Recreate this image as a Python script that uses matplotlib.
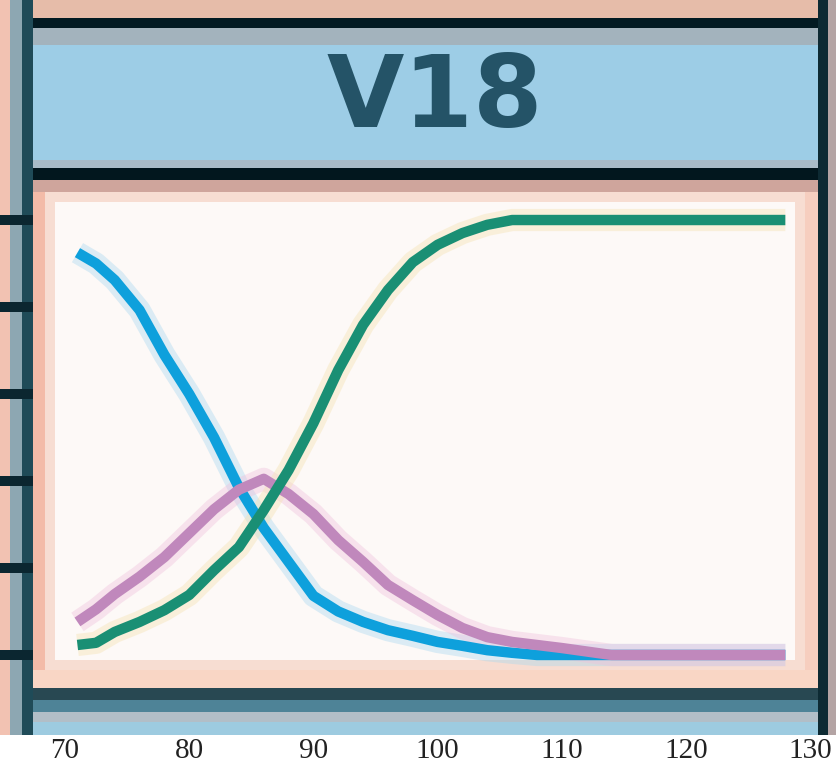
import matplotlib
matplotlib.use("Agg")
import matplotlib.pyplot as plt
from matplotlib.patches import Rectangle

# data
x_vals = [71, 72.5, 74, 76, 78, 80, 82, 84, 86, 88, 90, 92, 94, 96, 98, 100,
          102, 104, 106, 108, 110, 114, 118, 122, 128]
blue = [0.925, 0.90, 0.862, 0.793, 0.69, 0.60, 0.50, 0.385, 0.292, 0.214, 0.136,
        0.10, 0.076, 0.057, 0.044, 0.03, 0.021, 0.011, 0.005, 0.0, 0.0, 0.0,
        0.0, 0.0, 0.0]
purple = [0.076, 0.105, 0.14, 0.18, 0.225, 0.28, 0.335, 0.38, 0.405, 0.37,
          0.324, 0.264, 0.214, 0.161, 0.126, 0.092, 0.062, 0.041, 0.030, 0.023,
          0.016, 0.0, 0.0, 0.0, 0.0]
green = [0.023, 0.028, 0.053, 0.076, 0.103, 0.138, 0.195, 0.248, 0.333, 0.425,
         0.533, 0.655, 0.759, 0.839, 0.903, 0.943, 0.970, 0.989, 1.0, 1.0, 1.0,
         1.0, 1.0, 1.0, 1.0]
x_ticks = [70, 80, 90, 100, 110, 120, 130]
y_ticks = [0, 0.2, 0.4, 0.6, 0.8, 1.0]
strip_label = "V18"

W, H = 837, 769
fig = plt.figure(figsize=(W / 100, H / 100), dpi=100)
fig.patch.set_facecolor("white")


def band(x0, y0, x1, y1, color):
    # pixel box, y measured from the top
    fig.add_artist(Rectangle((x0 / W, 1 - y1 / H), (x1 - x0) / W, (y1 - y0) / H,
                             transform=fig.transFigure, facecolor=color,
                             edgecolor="none", zorder=-1))


# left edge columns
band(0, 0, 10, 735, "#f2c2b2")
band(10, 0, 22, 735, "#8da7b2")
# top strip
band(33, 0, 818, 18, "#e6bca9")
band(22, 18, 830, 28, "#021a22")
band(33, 28, 818, 45, "#a3b3bd")
band(33, 45, 818, 160, "#9dcde6")
band(33, 160, 818, 168, "#a9bcc8")
band(22, 168, 830, 180, "#02171e")
# panel
band(33, 180, 818, 192, "#cfa59c")
band(33, 192, 818, 688, "#f7ddd2")
band(55, 202, 795, 660, "#fdf9f7")
band(33, 192, 45, 688, "#f3bba8")
band(805, 192, 818, 688, "#f6cebf")
band(33, 670, 818, 688, "#f9d6c5")
# bottom strip
band(22, 688, 830, 700, "#284852")
band(33, 700, 818, 712, "#4e8397")
band(33, 712, 818, 722, "#b2bec7")
band(33, 722, 818, 735, "#9dcbe0")
# side spines
band(22, 0, 33, 735, "#1f4b58")
band(818, 0, 828, 735, "#0d2a33")
band(828, 0, 837, 735, "#b4a4a4")

fig.text(435 / W, 1 - 100 / H, strip_label, ha="center", va="center",
         fontsize=72, fontweight="bold", color="#245367")

ax = fig.add_axes([33 / W, 1 - 688 / H, (818 - 33) / W, (688 - 180) / H])
ax.patch.set_visible(False)
for s in ax.spines.values():
    s.set_visible(False)
ax.set_xlim(67.42, 130.63)
ax.set_ylim(-0.0759, 1.092)

series = [(blue, "#0ea0dc"), (purple, "#c088bc"), (green, "#1a8f74")]
halo = ["#a8d8f0", "#f0c0dc", "#f5e2b0"]
for (vals, col), hc in zip(series, halo):
    ax.plot(x_vals, vals, color=hc, lw=16, alpha=0.4, solid_capstyle="butt")
for vals, col in series:
    ax.plot(x_vals, vals, color=col, lw=7.5, solid_capstyle="butt")

ax.set_yticks(y_ticks)
ax.tick_params(axis="y", length=23.8, width=7.2, color="#0b2630", labelleft=False)
ax.set_xticks(x_ticks)
ax.set_xticklabels([str(t) for t in x_ticks], fontfamily="Liberation Serif",
                   fontsize=21, color="#222222")
ax.tick_params(axis="x", length=0, pad=36)

fig.savefig("out.png", dpi=100)
